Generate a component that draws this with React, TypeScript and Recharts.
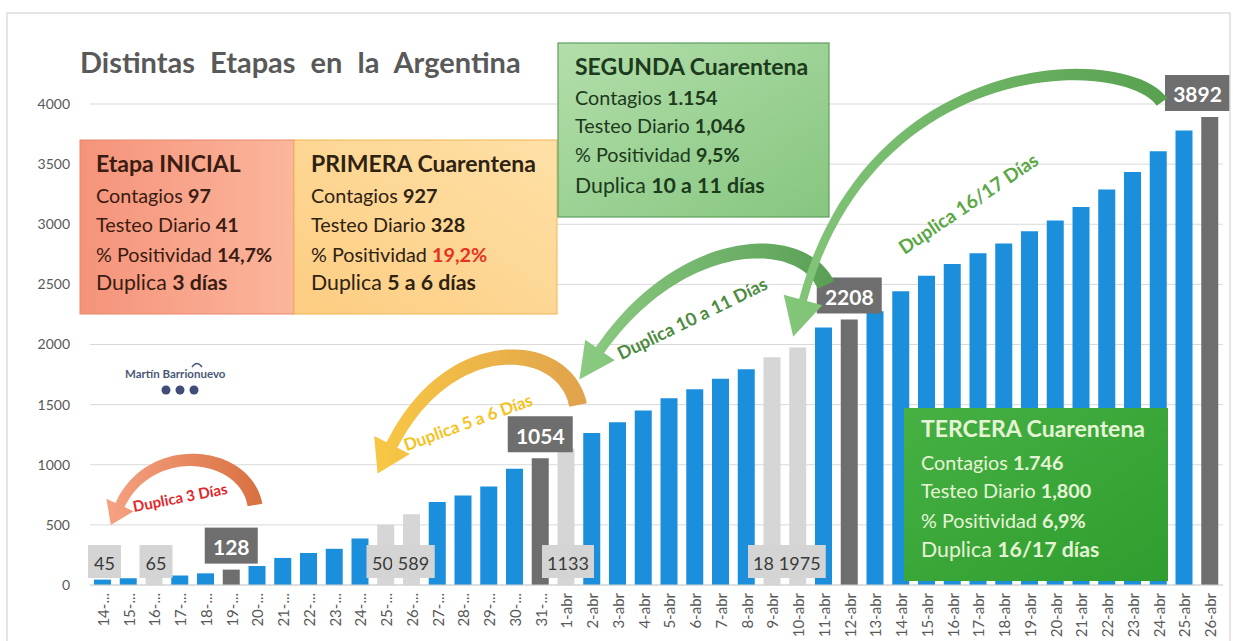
import React from 'react';
import { BarChart, Bar, XAxis, YAxis, CartesianGrid, Cell, LabelList } from 'recharts';

const days = [
  '14-...', '15-...', '16-...', '17-...', '18-...', '19-...', '20-...', '21-...', '22-...', '23-...',
  '24-...', '25-...', '26-...', '27-...', '28-...', '29-...', '30-...', '31-...',
  '1-abr', '2-abr', '3-abr', '4-abr', '5-abr', '6-abr', '7-abr', '8-abr', '9-abr', '10-abr',
  '11-abr', '12-abr', '13-abr', '14-abr', '15-abr', '16-abr', '17-abr', '18-abr', '19-abr', '20-abr',
  '21-abr', '22-abr', '23-abr', '24-abr', '25-abr', '26-abr',
];
const cases = [
  45, 56, 65, 79, 97, 128, 158, 225, 266, 301, 387, 502, 589, 690, 745, 820, 966, 1054,
  1133, 1265, 1353, 1451, 1554, 1628, 1715, 1795, 1894, 1975, 2142, 2208, 2277, 2443, 2571,
  2669, 2758, 2839, 2941, 3031, 3144, 3288, 3435, 3607, 3780, 3892,
];
const darkDays = ['19-...', '31-...', '12-abr', '26-abr'];
const lightDays = ['16-...', '25-...', '26-...', '1-abr', '9-abr', '10-abr'];
const topLabelDays = ['19-...', '31-...', '12-abr', '26-abr'];
const bottomLabelDays = ['14-...', '16-...', '25-...', '26-...', '1-abr', '9-abr', '10-abr'];
const yTicks = [0, 500, 1000, 1500, 2000, 2500, 3000, 3500, 4000];

const title = 'Distintas Etapas en la Argentina';
const stageInicial = ['Etapa INICIAL', ['Contagios ', '97'], ['Testeo Diario ', '41'], ['% Positividad ', '14,7%'], ['Duplica ', '3 días']];
const stagePrimera = ['PRIMERA Cuarentena', ['Contagios ', '927'], ['Testeo Diario ', '328'], ['% Positividad ', '19,2%'], ['Duplica ', '5 a 6 días']];
const stageSegunda = ['SEGUNDA Cuarentena', ['Contagios ', '1.154'], ['Testeo Diario ', '1,046'], ['% Positividad ', '9,5%'], ['Duplica ', '10 a 11  días']];
const stageTercera = ['TERCERA Cuarentena', ['Contagios ', '1.746'], ['Testeo Diario ', '1,800'], ['% Positividad ', '6,9%'], ['Duplica ', '16/17 días']];

const data = days.map((day, i) => ({
  day,
  cases: cases[i],
  top: topLabelDays.includes(day) ? cases[i] : null,
  bottom: bottomLabelDays.includes(day) ? cases[i] : null,
}));

const FONT = 'Lato, "Open Sans", sans-serif';
const BLUE = '#1b8fdc';
const DARK = '#6e6e6e';
const LIGHT = '#d6d6d6';

const barColor = (day: string) => (darkDays.includes(day) ? DARK : lightDays.includes(day) ? LIGHT : BLUE);

const getBox = (props: any) => {
  const vb = props.viewBox && props.viewBox.width != null ? props.viewBox : props;
  return { x: Number(vb.x), y: Number(vb.y), width: Number(vb.width), height: Number(vb.height) };
};

const TopLabel = (props: any) => {
  const { value } = props;
  if (value == null) return null;
  const b = getBox(props);
  const s = String(value);
  const w = s.length * 12 + 17;
  const h = 36;
  let cx = b.x + b.width / 2;
  if (cx + w / 2 > 1230) cx = 1230 - w / 2;
  const bottom = b.y - 6;
  return (
    <g>
      <rect x={cx - w / 2} y={bottom - h} width={w} height={h} fill={DARK} />
      <text x={cx} y={bottom - h / 2 + 1} textAnchor="middle" dominantBaseline="central" fill="#ffffff" fontSize={21} fontWeight={700} fontFamily={FONT}>
        {s}
      </text>
    </g>
  );
};

const BottomLabel = (props: any) => {
  const { value } = props;
  if (value == null) return null;
  const b = getBox(props);
  const s = String(value);
  const w = s.length * 9.5 + 14;
  const base = b.y + b.height;
  const top = base - 40;
  const h = 33;
  const cx = b.x + b.width / 2 + 2;
  return (
    <g>
      <rect x={cx - w / 2} y={top} width={w} height={h} fill="#d4d4d4" />
      <text x={cx} y={top + h / 2 + 1} textAnchor="middle" dominantBaseline="central" fill="#3a3a3a" fontSize={18} fontFamily={FONT}>
        {s}
      </text>
    </g>
  );
};

const XTick = (props: any) => {
  const { x, y, payload } = props;
  return (
    <text
      x={x}
      y={y}
      transform={`rotate(-90 ${x} ${y})`}
      textAnchor="end"
      dominantBaseline="central"
      fontSize={15}
      fill="#595959"
      fontFamily={FONT}
    >
      {payload.value}
    </text>
  );
};

type P = [number, number];
const bez = (p: P[], t: number): P => {
  const m = 1 - t;
  const a = m * m * m, b = 3 * m * m * t, c = 3 * m * t * t, d = t * t * t;
  return [a * p[0][0] + b * p[1][0] + c * p[2][0] + d * p[3][0], a * p[0][1] + b * p[1][1] + c * p[2][1] + d * p[3][1]];
};
const bezD = (p: P[], t: number): P => {
  const m = 1 - t;
  const a = 3 * m * m, b = 6 * m * t, c = 3 * t * t;
  return [
    a * (p[1][0] - p[0][0]) + b * (p[2][0] - p[1][0]) + c * (p[3][0] - p[2][0]),
    a * (p[1][1] - p[0][1]) + b * (p[2][1] - p[1][1]) + c * (p[3][1] - p[2][1]),
  ];
};
const arrowPath = (p: P[], w0: number, w1: number, headLen: number, headHalf: number) => {
  const N = 48;
  const left: P[] = [];
  const right: P[] = [];
  for (let i = 0; i <= N; i++) {
    const t = i / N;
    const q = bez(p, t);
    const d = bezD(p, t);
    const l = Math.hypot(d[0], d[1]) || 1;
    const n: P = [-d[1] / l, d[0] / l];
    const w = (w0 + (w1 - w0) * t) / 2;
    left.push([q[0] + n[0] * w, q[1] + n[1] * w]);
    right.push([q[0] - n[0] * w, q[1] - n[1] * w]);
  }
  const e = p[3];
  const de = bezD(p, 1);
  const le = Math.hypot(de[0], de[1]) || 1;
  const u: P = [de[0] / le, de[1] / le];
  const n: P = [-u[1], u[0]];
  const tip: P = [e[0] + u[0] * headLen, e[1] + u[1] * headLen];
  const wl: P = [e[0] + n[0] * headHalf, e[1] + n[1] * headHalf];
  const wr: P = [e[0] - n[0] * headHalf, e[1] - n[1] * headHalf];
  const pts = [...left, wl, tip, wr, ...right.reverse()];
  return 'M' + pts.map((q) => `${q[0].toFixed(1)},${q[1].toFixed(1)}`).join(' L') + ' Z';
};

const StageBox = ({ lines, x, baselines, color, accent }: any) => (
  <g fontFamily={FONT} fill={color}>
    <text x={x} y={baselines[0]} fontSize={23} fontWeight={700}>{lines[0]}</text>
    {[1, 2, 3, 4].map((k) => (
      <text key={k} x={x} y={baselines[k]} fontSize={k === 4 ? 21.3 : 19.8}>
        {lines[k][0]}
        <tspan fontWeight={700} fill={accent && k === 3 ? accent : color}>{lines[k][1]}</tspan>
      </text>
    ))}
  </g>
);

const Overlay = () => (
  <svg width={1233} height={641} style={{ position: 'absolute', left: 0, top: 0, pointerEvents: 'none' }}>
    <defs>
      <linearGradient id="gInicial" x1="0" y1="0" x2="1" y2="0">
        <stop offset="0" stopColor="#f5937a" />
        <stop offset="1" stopColor="#fbb69c" />
      </linearGradient>
      <linearGradient id="gPrimera" x1="0" y1="1" x2="1" y2="0">
        <stop offset="0" stopColor="#fdcd82" />
        <stop offset="1" stopColor="#fee0a6" />
      </linearGradient>
      <linearGradient id="gSegunda" x1="0" y1="0" x2="1" y2="1">
        <stop offset="0" stopColor="#b3deab" />
        <stop offset="1" stopColor="#86c67f" />
      </linearGradient>
      <linearGradient id="gTercera" x1="0" y1="0" x2="1" y2="1">
        <stop offset="0" stopColor="#46b043" />
        <stop offset="1" stopColor="#2f9d2f" />
      </linearGradient>
      <linearGradient id="aRed" x1="0" y1="0" x2="1" y2="0">
        <stop offset="0" stopColor="#f6a283" />
        <stop offset="1" stopColor="#d8703f" />
      </linearGradient>
      <linearGradient id="aYellow" x1="0" y1="0" x2="1" y2="0">
        <stop offset="0" stopColor="#f8c844" />
        <stop offset="1" stopColor="#e0a24c" />
      </linearGradient>
      <linearGradient id="aGreen1" x1="0" y1="0" x2="1" y2="0">
        <stop offset="0" stopColor="#8ccb82" />
        <stop offset="1" stopColor="#5a9e56" />
      </linearGradient>
      <linearGradient id="aGreen2" x1="0" y1="0" x2="1" y2="0">
        <stop offset="0" stopColor="#84c67a" />
        <stop offset="1" stopColor="#57a14f" />
      </linearGradient>
    </defs>

    <rect x={7} y={13} width={1223} height={640} fill="none" stroke="#dddddd" strokeWidth={1.5} />

    <text x={80} y={73} fontFamily={FONT} fontSize={29} fontWeight={700} fill="#595959" wordSpacing={8}>{title}</text>

    {/* logo */}
    <text x={125} y={378} fontFamily={FONT} fontSize={11.5} fontWeight={700} fill="#4b5878">Martín Barrionuevo</text>
    <path d="M192,367 Q197,360 202,367" fill="none" stroke="#4b5878" strokeWidth={1.5} />
    <circle cx={166} cy={390} r={4.5} fill="#3f4d78" />
    <circle cx={180} cy={390} r={4.5} fill="#3f4d78" />
    <circle cx={194} cy={390} r={4.5} fill="#3f4d78" />

    {/* stage boxes */}
    <rect x={80} y={140} width={214} height={174} fill="url(#gInicial)" stroke="#e8876c" strokeWidth={1} />
    <rect x={294} y={140} width={263} height={174} fill="url(#gPrimera)" stroke="#f1b452" strokeWidth={1} />
    <StageBox lines={stageInicial} x={96} baselines={[172, 203, 232, 262, 290]} color="#3a1c12" />
    <StageBox lines={stagePrimera} x={311} baselines={[172, 203, 232, 262, 290]} color="#2e2212" accent="#e8321e" />

    <rect x={558} y={43} width={271} height={174} fill="url(#gSegunda)" stroke="#5f9f5b" strokeWidth={1.2} />
    <StageBox lines={stageSegunda} x={575} baselines={[75, 105, 133, 162, 193]} color="#1c3a1c" />

    <rect x={904} y={408} width={264} height={173} fill="url(#gTercera)" />
    <StageBox lines={stageTercera} x={921} baselines={[437, 470, 498, 528, 557]} color="#e6f4d6" />

    {/* arrows */}
    <path d={arrowPath([[255, 505], [245, 450], [150, 440], [120, 505]], 15, 10, 22, 15)} fill="url(#aRed)" />
    <path d={arrowPath([[578, 405], [565, 340], [450, 330], [392, 445]], 18, 12, 32, 20)} fill="url(#aYellow)" />
    <path d={arrowPath([[826, 285], [800, 230], [680, 235], [600, 350]], 18, 10, 36, 18)} fill="url(#aGreen1)" />
    <path d={arrowPath([[1162, 102], [1125, 50], [870, 50], [803, 300]], 13, 8, 38, 20)} fill="url(#aGreen2)" />

    <text transform="translate(180,497) rotate(-11)" textAnchor="middle" dominantBaseline="central" fontFamily={FONT} fontSize={15} fontWeight={700} fill="#e4262a">Duplica 3 Días</text>
    <text transform="translate(468,422) rotate(-20)" textAnchor="middle" dominantBaseline="central" fontFamily={FONT} fontSize={17} fontWeight={700} fill="#f5c21b">Duplica 5 a 6 Días</text>
    <text transform="translate(692,318) rotate(-26)" textAnchor="middle" dominantBaseline="central" fontFamily={FONT} fontSize={18} fontWeight={700} fill="#4d8b3f">Duplica 10 a 11 Días</text>
    <text transform="translate(968,203) rotate(-34)" textAnchor="middle" dominantBaseline="central" fontFamily={FONT} fontSize={19} fontWeight={700} fill="#5aa845">Duplica 16/17 Días</text>
  </svg>
);

export default function App() {
  return (
    <div style={{ position: 'absolute', left: 0, top: 0, width: 1233, height: 641, background: '#ffffff', fontFamily: FONT, overflow: 'hidden' }}>
      <BarChart width={1233} height={641} data={data} margin={{ top: 104, right: 10, left: 0, bottom: 0 }}>
        <CartesianGrid vertical={false} stroke="#d9d9d9" />
        <XAxis
          dataKey="day"
          interval={0}
          height={56}
          tickLine={false}
          axisLine={{ stroke: '#d0d0d0' }}
          tick={(p: any) => <XTick {...p} />}
        />
        <YAxis
          domain={[0, 4000]}
          ticks={yTicks}
          width={90}
          axisLine={false}
          tickLine={false}
          tickMargin={14}
          tick={{ fontSize: 14, fill: '#595959', fontFamily: FONT }}
        />
        <Bar dataKey="cases" barSize={17} isAnimationActive={false}>
          {data.map((d) => (
            <Cell key={d.day} fill={barColor(d.day)} />
          ))}
          <LabelList dataKey="bottom" content={BottomLabel} />
          <LabelList dataKey="top" content={TopLabel} />
        </Bar>
      </BarChart>
      <Overlay />
    </div>
  );
}
